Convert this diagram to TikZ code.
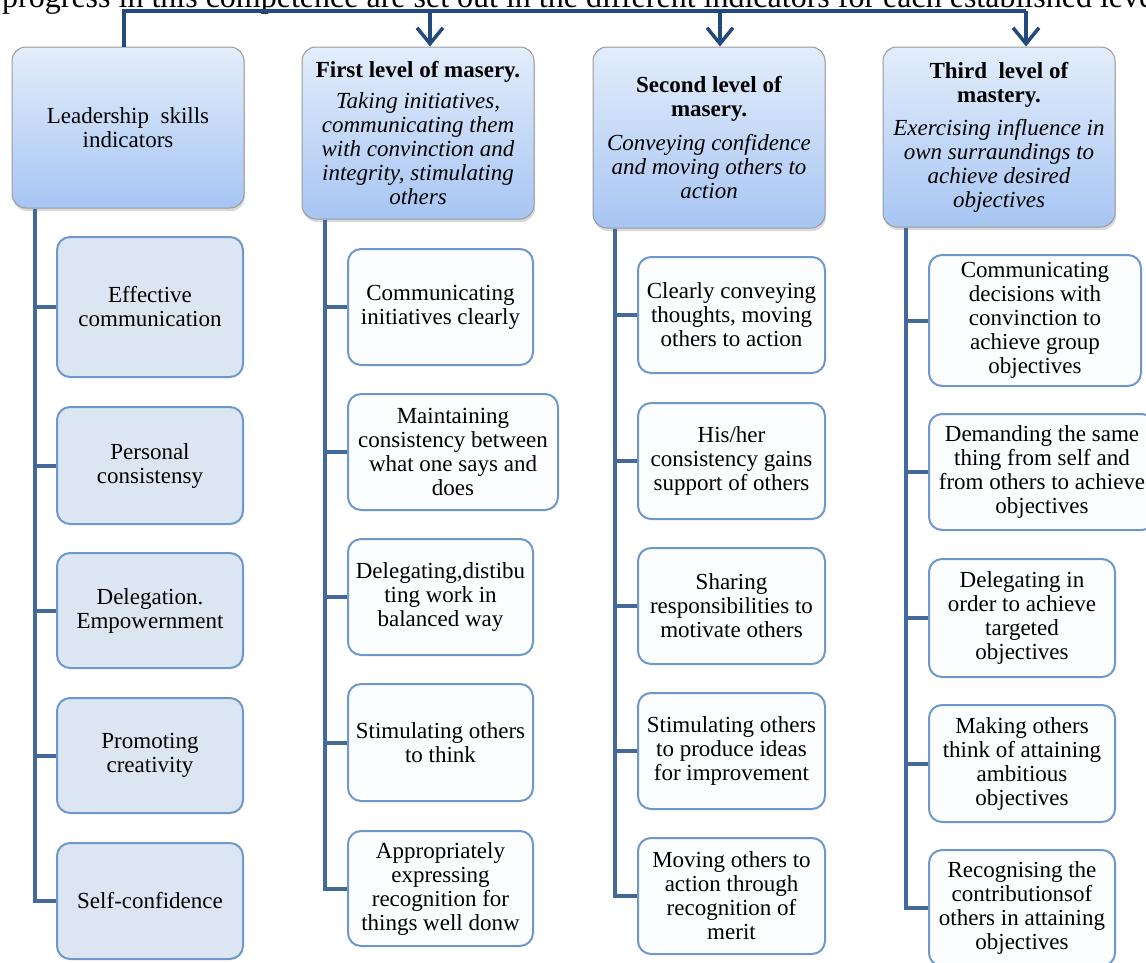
\documentclass[tikz,border=0pt]{standalone}
\usepackage{fontspec}
\setmainfont{Liberation Serif}
\usetikzlibrary{arrows.meta,shadows}
\definecolor{trunkc}{HTML}{43699A}
\definecolor{topc}{HTML}{234A7C}
\definecolor{hdtop}{HTML}{E3EDFB}
\definecolor{hdbot}{HTML}{A7C5F3}
\definecolor{hdborder}{HTML}{9A9A9A}
\definecolor{cborder}{HTML}{6E98CC}
\definecolor{czfill}{HTML}{DCE6F2}
\definecolor{cfill}{HTML}{FCFDFE}
\begin{document}
\begin{tikzpicture}[x=1pt,y=-1pt,
  txt/.style={font=\fontsize{23}{24}\selectfont, align=center, inner sep=0pt},
  hdbox/.style={txt, rounded corners=14pt, draw=hdborder, line width=1pt,
    top color=hdtop, bottom color=hdbot,
    drop shadow={shadow xshift=1pt, shadow yshift=-3pt, opacity=0.3}},
  leftbox/.style={txt, rounded corners=13pt, draw=cborder, line width=2pt, fill=czfill},
  itembox/.style={txt, rounded corners=13pt, draw=cborder, line width=2pt, fill=cfill},
  trunk/.style={draw=trunkc, line width=4pt},
  topline/.style={draw=topc, line width=3.5pt},
  toparrow/.style={topline, -{Straight Barb[length=16pt,width=26pt,line width=3.5pt]}}
]
\useasboundingbox (0,0) rectangle (1146,962);
\clip (0,0) rectangle (1146,962);

% cut-off caption line at the top
\node[anchor=base west, inner sep=0pt, font=\fontsize{32}{36}\selectfont] (title) at (2,7)
  {progress in this competence are set out in the different indicators for each established level};

% header boxes
\node[hdbox, minimum width=232pt, minimum height=161pt] (h0) at (128,127.5)
  {Leadership\ \ skills\\indicators};
\node[hdbox, minimum width=232pt, minimum height=172pt] (h1) at (418,133)
  {\textbf{First level of masery.}\\[7pt]\textit{Taking initiatives,}\\\textit{communicating them}\\\textit{with convinction and}\\\textit{integrity, stimulating}\\\textit{others}};
\node[hdbox, minimum width=232pt, minimum height=181pt] (h2) at (709,137.5)
  {\textbf{Second level of}\\\textbf{masery.}\\[10pt]\textit{Conveying confidence}\\\textit{and moving others to}\\\textit{action}};
\node[hdbox, minimum width=232pt, minimum height=180pt] (h3) at (999,137)
  {\textbf{Third\ \ level of}\\\textbf{mastery.}\\[9pt]\textit{Exercising influence in}\\\textit{own surraundings to}\\\textit{achieve desired}\\\textit{objectives}};

% column 0
\node[leftbox, minimum width=186pt, minimum height=140pt] (c01) at (150,307) {Effective\\communication};
\node[leftbox, minimum width=186pt, minimum height=117pt] (c02) at (150,465.5) {Personal\\consistensy};
\node[leftbox, minimum width=186pt, minimum height=115pt] (c03) at (150,610.5) {Delegation.\\Empowernment};
\node[leftbox, minimum width=186pt, minimum height=115pt] (c04) at (150,755.5) {Promoting\\creativity};
\node[leftbox, minimum width=186pt, minimum height=116pt] (c05) at (150,901) {Self-confidence};

% column 1
\node[itembox, minimum width=185pt, minimum height=116pt] (c11) at (440.5,307) {Communicating\\initiatives clearly};
\node[itembox, minimum width=210pt, minimum height=116pt] (c12) at (453,452) {Maintaining\\consistency between\\what one says and\\does};
\node[itembox, minimum width=185pt, minimum height=116pt] (c13) at (440.5,597) {Delegating,distibu\\ting work in\\balanced way};
\node[itembox, minimum width=185pt, minimum height=117pt] (c14) at (440.5,742.5) {Stimulating others\\to think};
\node[itembox, minimum width=185pt, minimum height=115pt] (c15) at (440.5,888.5) {Appropriately\\expressing\\recognition for\\things well donw};

% column 2
\node[itembox, minimum width=187pt, minimum height=116pt] (c21) at (731.5,315) {Clearly conveying\\thoughts, moving\\others to action};
\node[itembox, minimum width=187pt, minimum height=116pt] (c22) at (731.5,461) {His/her\\consistency gains\\support of others};
\node[itembox, minimum width=187pt, minimum height=116pt] (c23) at (731.5,606) {Sharing\\responsibilities to\\motivate others};
\node[itembox, minimum width=187pt, minimum height=116pt] (c24) at (731.5,751) {Stimulating others\\to produce ideas\\for improvement};
\node[itembox, minimum width=187pt, minimum height=116pt] (c25) at (731.5,896) {Moving others to\\action through\\recognition of\\merit};

% column 3
\node[itembox, minimum width=212pt, minimum height=131pt] (c31) at (1035,320.5) {Communicating\\decisions with\\convinction to\\achieve group\\objectives};
\node[itembox, minimum width=226pt, minimum height=116pt] (c32) at (1042,472) {Demanding the same\\thing from self and\\from others to achieve\\objectives};
\node[itembox, minimum width=186pt, minimum height=118pt] (c33) at (1022,618) {Delegating in\\order to achieve\\targeted\\objectives};
\node[itembox, minimum width=186pt, minimum height=117pt] (c34) at (1022,763.5) {Making others\\think of attaining\\ambitious\\objectives};
\node[itembox, minimum width=186pt, minimum height=116pt] (c35) at (1022,908) {Recognising the\\contributionsof\\others in attaining\\objectives};

% top distribution line and arrows
\coordinate (a0) at (124,11);
\coordinate (a1) at (430,11);
\coordinate (a2) at (720,11);
\coordinate (a3) at (1026,11);
\draw[topline] (a0 |- h0.north) -- (a0) -- (a3);
\draw[toparrow] (a3) -- (a3 |- h3.north);
\draw[toparrow] (a1) -- (a1 |- h1.north);
\draw[toparrow] (a2) -- (a2 |- h2.north);

% trunks and branches
\coordinate (t0) at (35,0);
\coordinate (t1) at (325,0);
\coordinate (t2) at (615,0);
\coordinate (t3) at (906,0);
\draw[trunk] (t0 |- h0.south) |- (c05.west);
\draw[trunk] (t1 |- h1.south) |- (c15.west);
\draw[trunk] (t2 |- h2.south) |- (c25.west);
\draw[trunk] (t3 |- h3.south) |- (c35.west);
\foreach \c in {c01,c02,c03,c04} \draw[trunk] (t0 |- \c.west) -- (\c.west);
\foreach \c in {c11,c12,c13,c14} \draw[trunk] (t1 |- \c.west) -- (\c.west);
\foreach \c in {c21,c22,c23,c24} \draw[trunk] (t2 |- \c.west) -- (\c.west);
\foreach \c in {c31,c32,c33,c34} \draw[trunk] (t3 |- \c.west) -- (\c.west);
\end{tikzpicture}
\end{document}
